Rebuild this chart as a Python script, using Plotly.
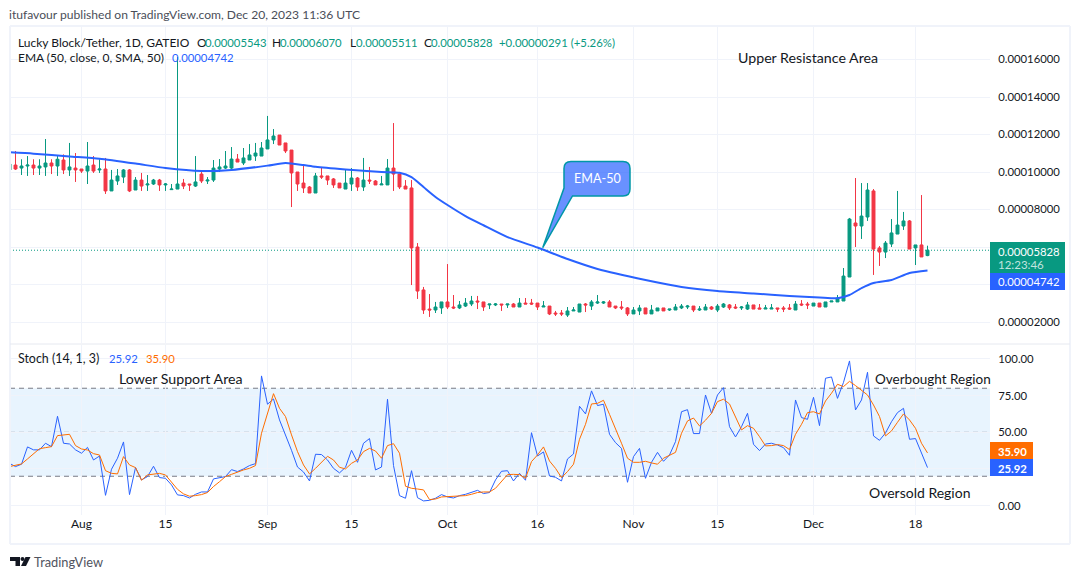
import pandas as pd
import plotly.graph_objects as go

PRICE_UNIT = 1e-5
W, H = 1080, 579
FONT = "Lato"
NUM = 11.3

dates = pd.date_range("2023-07-20", "2023-12-20", freq="D")

open_ = [10.11,10.37,10.21,10.32,10.37,10.21,10.27,10.48,10.32,10.64,
10.11,10.21,10.16,10.05,10.37,10.11,10.16,8.99,9.52,9.73,
10.11,9.04,9.57,9.31,9.36,9.57,9.31,9.06,9.09,9.41,
9.36,9.25,9.89,9.52,9.57,10.16,10.21,10.21,10.69,10.48,
10.64,10.85,10.85,11.23,11.71,11.97,11.55,11.17,10.0,9.41,
9.20,8.88,9.79,9.79,9.63,9.41,9.09,9.36,9.68,9.20,
9.57,9.52,9.31,9.31,10.21,9.89,9.25,9.15,6.00,3.71,
2.69,2.64,2.75,3.07,2.80,2.75,2.85,2.96,3.12,3.07,
2.91,2.91,2.96,2.91,2.96,2.80,3.01,3.01,3.01,2.80,
2.85,2.48,2.48,2.37,2.59,2.53,2.96,2.85,3.01,3.01,
3.07,2.85,2.80,2.75,2.43,2.59,2.75,2.43,2.59,2.75,
2.64,2.64,2.75,2.80,2.85,2.64,2.64,2.80,2.64,2.80,
2.91,2.80,2.75,2.69,2.91,2.75,2.69,2.69,2.75,2.75,
2.75,2.64,2.96,2.96,2.85,3.01,2.80,3.07,3.07,3.12,
4.40,7.28,7.12,7.60,8.99,5.95,5.73,6.16,6.69,7.12,
7.39,5.95,6.11,5.543]

high = [10.50,11.12,10.68,10.85,10.68,10.68,11.76,10.68,10.85,10.94,
11.55,11.01,10.16,11.60,10.85,10.68,10.75,10.11,10.16,10.16,
10.16,9.73,9.95,9.84,9.63,9.63,9.41,9.36,16.13,9.63,
9.36,10.85,10.0,9.73,10.64,10.69,11.12,11.33,10.96,11.28,
11.49,11.55,11.60,12.99,12.29,11.97,11.55,11.17,10.0,10.32,
9.25,9.95,10.27,9.79,9.68,9.41,10.11,10.21,9.73,10.75,
10.27,9.57,9.79,10.69,12.61,9.89,9.57,9.57,6.21,3.87,
3.49,3.07,3.07,5.09,3.44,3.12,3.28,3.39,3.39,3.07,
2.96,3.01,2.96,2.96,3.01,3.28,3.28,3.23,3.01,3.12,
2.85,2.59,2.64,2.80,2.80,2.96,3.01,3.17,3.44,3.12,
3.17,2.85,3.12,2.80,2.80,2.91,2.75,2.91,2.75,2.75,
2.69,2.96,2.96,2.91,2.85,2.85,2.96,2.85,2.96,3.01,
2.96,2.96,2.85,3.07,2.91,2.96,2.91,2.96,2.75,2.85,
2.96,3.12,3.17,3.07,3.01,3.01,3.07,3.12,3.44,4.88,
7.55,9.68,9.41,9.41,9.09,6.05,6.32,7.49,8.99,7.87,
7.44,6.11,8.77,6.07]

low = [10.05,10.11,9.84,9.79,9.84,9.84,9.79,9.89,9.79,9.89,
9.79,9.47,9.95,9.36,9.95,9.95,8.83,8.99,9.31,9.41,
8.93,9.04,8.99,8.99,9.31,8.99,8.99,9.04,9.09,9.09,
8.99,9.20,9.41,9.36,9.47,10.0,10.16,10.16,10.53,10.37,
10.64,10.59,10.85,11.23,11.49,11.44,11.01,8.13,8.99,8.88,
8.88,8.88,9.63,9.31,9.15,9.15,9.09,8.99,8.99,8.99,
9.36,9.31,9.31,9.31,8.99,9.09,9.09,3.97,3.23,2.43,
2.27,2.48,2.43,2.69,2.69,2.69,2.80,2.85,2.69,2.59,
2.69,2.85,2.59,2.75,2.80,2.80,2.96,2.91,2.64,2.80,
2.37,2.32,2.32,2.27,2.59,2.53,2.53,2.64,2.96,2.96,
2.80,2.69,2.64,2.32,2.43,2.37,2.43,2.43,2.59,2.59,
2.59,2.64,2.69,2.69,2.53,2.59,2.64,2.64,2.53,2.75,
2.64,2.69,2.64,2.64,2.69,2.69,2.69,2.69,2.53,2.53,
2.64,2.64,2.85,2.69,2.85,2.80,2.80,3.07,3.07,3.12,
4.40,6.0,6.43,7.39,4.51,4.99,5.41,6.0,6.69,6.91,
5.89,5.04,5.47,5.511]

close = [10.43,10.16,10.32,10.37,10.21,10.32,10.48,10.32,10.68,10.11,
10.27,10.11,10.05,10.32,10.05,10.16,8.99,9.57,9.79,10.11,
8.99,9.57,9.25,9.36,9.57,9.31,9.36,9.09,9.36,9.25,
9.31,9.47,9.52,9.57,10.21,10.27,10.32,10.69,10.53,10.75,
10.91,11.01,11.28,11.71,11.92,11.44,11.12,9.95,9.36,9.15,
8.88,9.79,9.73,9.57,9.31,9.15,9.41,9.68,9.20,9.57,
9.52,9.31,9.36,10.21,9.89,9.20,9.09,5.95,3.65,2.64,
2.64,2.80,3.07,2.80,2.75,2.91,3.01,3.12,3.07,2.80,
2.96,2.96,2.91,2.96,2.80,3.01,2.96,2.96,2.80,2.85,
2.43,2.43,2.43,2.59,2.64,2.96,2.91,3.07,3.07,3.07,
2.80,2.75,2.75,2.43,2.64,2.75,2.43,2.64,2.75,2.59,
2.69,2.80,2.85,2.85,2.64,2.69,2.80,2.69,2.85,2.96,
2.75,2.75,2.80,2.91,2.69,2.69,2.75,2.75,2.69,2.69,
2.69,2.96,2.91,2.91,3.01,2.80,3.07,3.12,3.28,4.45,
7.49,7.12,7.65,9.04,5.89,5.73,6.21,6.75,7.17,7.39,
5.89,6.11,5.47,5.828]

ema_dates = ["2023-07-20","2023-07-24","2023-07-30","2023-08-04","2023-08-10","2023-08-15",
"2023-08-21","2023-08-26","2023-09-01","2023-09-04","2023-09-07","2023-09-09","2023-09-14",
"2023-09-20","2023-09-23","2023-09-25","2023-09-27","2023-09-29","2023-10-01","2023-10-04","2023-10-07",
"2023-10-11","2023-10-16","2023-10-21","2023-10-26","2023-11-03","2023-11-09","2023-11-15",
"2023-11-21","2023-11-27","2023-12-02","2023-12-05","2023-12-07","2023-12-09","2023-12-11",
"2023-12-14","2023-12-17","2023-12-20"]
ema_vals = [11.05,10.98,10.83,10.71,10.45,10.21,10.05,10.11,10.34,10.48,10.37,10.28,10.14,
10.0,9.96,9.73,9.2,8.67,8.24,7.65,7.16,6.53,5.97,5.36,4.83,4.24,3.87,3.65,3.52,3.39,3.31,3.27,
3.44,3.81,4.08,4.24,4.61,4.742]

stoch_k = [28.8,26.6,28.2,40,38,38,42.5,40.2,60.9,42.5,
42,38,35.7,39.7,31.1,33.8,7,24.8,32.3,43.4,
7.5,25.9,17.5,19.8,26.8,19.1,18.6,14.1,7.3,6.8,
5.2,7.7,9.3,9.3,18.2,19.1,19.8,24.5,23.2,25,
27.3,28.6,88.4,69.1,72.7,58.4,48.6,37.7,26.3,22.9,
16.8,35,34.8,31.1,25.4,22.3,26.1,37.7,29.5,42.5,
45.7,24.3,26.3,72.5,27.3,6.8,5,23.8,5.4,3.2,
3.6,5,7.5,5.9,5.2,6.8,7.7,8.9,10.4,8.2,
8.9,17.5,23.4,23.8,16.8,22,17.3,49.7,33.8,36.6,
20.2,19.3,16.8,31.8,35.2,67.7,62.5,78.2,68.2,69.1,
48.6,42.9,39,15.9,33.4,39,18.6,29.5,36.3,30.2,
34.5,43.6,64,65.4,49.1,49.1,75.4,62.9,75.4,80.4,
53.8,46.8,53.8,62.9,41.8,37.5,42,42.5,41.3,39.5,
34.3,72,60,58.8,73.8,54.5,86.8,87.7,73.1,84,
98.6,65.2,72,90.9,47.5,44.5,49.5,57.2,63.4,66.3,
45.2,45.7,36.3,25.92]

stoch_d = [26.6,27.3,28.4,31.8,35,38.8,39.5,40.2,47.7,47.9,
48.6,40.9,38.6,37.9,35.4,34.5,23.8,22,21.6,33.4,
27.7,25.9,17.3,20.9,21.3,22,20.9,16.3,11.1,8,
6.4,6.8,7.5,8.9,13,16.3,19.8,21.3,22.9,24.3,
25.4,27.3,49.3,62.9,76.3,66.3,60.7,48.2,36.8,27.7,
21.6,25.4,29.5,33.6,31.1,26.1,25,28.8,31.1,36.8,
39,37.2,32.3,40.9,42.2,35.7,13.2,11.8,11.3,10.7,
4.1,4.5,5.9,6.1,5.9,6.1,6.8,7.7,8.9,9.3,
9.3,11.8,16.1,21.1,21.3,21.1,18.6,30,34.5,40,
30.4,25.4,19.1,23.2,28.2,45.2,55.4,69.3,69.7,71.8,
62.2,52.7,42.5,32.3,29.5,29.5,30.2,29.1,28.2,32.3,
34.1,36.3,49.3,57.7,59.7,54.3,58.2,62.9,70.9,72.5,
69.3,60.7,51.6,54.5,52.7,47,40.7,40.9,41.6,40.9,
38.2,48.6,55.4,63.4,64,62.5,71.3,76.6,82.7,81.1,
84.7,81.8,78.6,75.4,68.6,60.7,47.5,50.9,56.8,62.5,
58.4,52.7,42.5,35.9]

price_ticks = [2, 4, 6, 8, 10, 12, 14, 16]
price_labels = ["0.00002000", "", "", "0.00008000", "0.00010000", "0.00012000", "0.00014000", "0.00016000"]
stoch_ticks = [0, 25, 50, 75, 100]
stoch_labels = ["0.00", "", "50.00", "75.00", "100.00"]
time_ticks = ["2023-08-01","2023-08-15","2023-09-01","2023-09-15","2023-10-01","2023-10-16",
              "2023-11-01","2023-11-15","2023-12-01","2023-12-18"]
time_labels = ["Aug","15","Sep","15","Oct","16","Nov","15","Dec","18"]

UP, DOWN, BLUE, ORANGE = "#089981", "#F23645", "#2962FF", "#FF6D00"
INK, GRID = "#131722", "#f0f3fa"

def X(px): return px / W
def Y(py): return 1 - py / H
def scaled(values): return [v * PRICE_UNIT for v in values]

fig = go.Figure()
fig.add_trace(go.Candlestick(x=dates, open=scaled(open_), high=scaled(high), low=scaled(low), close=scaled(close),
    increasing=dict(line=dict(color=UP, width=1), fillcolor=UP),
    decreasing=dict(line=dict(color=DOWN, width=1), fillcolor=DOWN),
    whiskerwidth=0, xaxis="x", yaxis="y", hoverinfo="skip"))
fig.add_trace(go.Scatter(x=pd.to_datetime(ema_dates), y=scaled(ema_vals), mode="lines",
    line=dict(color=BLUE, width=2, shape="spline", smoothing=0.6), xaxis="x", yaxis="y", hoverinfo="skip"))
fig.add_trace(go.Scatter(x=dates, y=stoch_k, mode="lines", line=dict(color=BLUE, width=1), xaxis="x2", yaxis="y2", hoverinfo="skip"))
fig.add_trace(go.Scatter(x=dates, y=stoch_d, mode="lines", line=dict(color=ORANGE, width=1), xaxis="x2", yaxis="y2", hoverinfo="skip"))

# axis windows: 6 px per day, first bar centred at px 9.5
LEFT, RIGHT, P_TOP, P_BOT, S_TOP, S_BOT = 10, 990, 27, 343, 345, 515
x0 = pd.Timestamp("2023-07-20") + pd.Timedelta(days=(LEFT - 9.5) / 6)
x1 = pd.Timestamp("2023-07-20") + pd.Timedelta(days=(RIGHT - 9.5) / 6)
x_range = [x0, x1]
price_range = [(2 + (322 - P_BOT) / 18.75) * PRICE_UNIT, (2 + (322 - P_TOP) / 18.75) * PRICE_UNIT]
stoch_range = [(505.6 - S_BOT) / 1.467, (505.6 - S_TOP) / 1.467]

shapes = []
def rect(x0, y0, x1, y1, color, layer="above"):
    shapes.append(dict(type="rect", xref="paper", yref="paper", x0=X(x0), x1=X(x1), y0=Y(y0), y1=Y(y1),
                       fillcolor=color, line=dict(width=0), layer=layer))
def hline(x0, x1, y, color, width=1, dash="solid", layer="above"):
    shapes.append(dict(type="line", xref="paper", yref="paper", x0=X(x0), x1=X(x1), y0=Y(y), y1=Y(y),
                       line=dict(color=color, width=width, dash=dash), layer=layer))
def vline(x, y0, y1, color, width=1):
    shapes.append(dict(type="line", xref="paper", yref="paper", x0=X(x), x1=X(x), y0=Y(y0), y1=Y(y1),
                       line=dict(color=color, width=width)))
def path(points, fill, line=None, lw=0):
    d = ""
    for cmd, *xy in points:
        d += cmd
        for i in range(0, len(xy), 2):
            d += f"{X(xy[i]):.5f},{Y(xy[i+1]):.5f} "
    shapes.append(dict(type="path", xref="paper", yref="paper", path=d + "Z", fillcolor=fill,
                       line=dict(color=line or fill, width=lw)))

# frame
vline(10, 26, 544, GRID, 2); vline(1070, 26, 544, GRID, 2)
hline(10, 1070, 26, GRID, 2); hline(10, 1070, 544, GRID, 2)
hline(10, 1070, 344, "#e6e9f0", 1)

# stochastic band and levels
shapes.append(dict(type="rect", xref="x2 domain", yref="y2", x0=0, x1=1, y0=20, y1=80,
                   fillcolor="rgba(33,150,243,0.1)", line=dict(width=0), layer="below"))
for level, colour in [(80, "#787B86"), (50, "rgba(120,123,134,0.6)"), (20, "#787B86")]:
    shapes.append(dict(type="line", xref="x2 domain", yref="y2", x0=0, x1=1, y0=level, y1=level,
                       line=dict(color=colour, width=1, dash="5px,4px"), layer="below"))
# last price dotted line
shapes.append(dict(type="line", xref="x domain", yref="y", x0=0, x1=1, y0=close[-1] * PRICE_UNIT, y1=close[-1] * PRICE_UNIT,
                   line=dict(color=UP, width=1, dash="1px,2px"), layer="below"))

# axis value badges
rect(990, 242, 1065, 273, UP); rect(990, 273, 1065, 290, BLUE)
rect(990, 442, 1033, 459, ORANGE); rect(990, 459, 1033, 476, BLUE)

# EMA-50 callout
l, r, t, b, c = 564, 630, 161.5, 196, 7
path([("M", l + c, t), ("L", r - c, t), ("Q", r, t, r, t + c), ("L", r, b - c), ("Q", r, b, r - c, b),
      ("L", 572.5, b), ("L", 542.7, 247.7), ("L", l, 188), ("L", l, t + c), ("Q", l, t, l + c, t)],
     "rgba(41,98,255,0.7)", "#0097A7", 1.5)

# TradingView mark
path([("M", 10, 557), ("L", 20, 557), ("L", 20, 566), ("L", 15.5, 566), ("L", 15.5, 561), ("L", 10, 561)], INK)
shapes.append(dict(type="circle", xref="paper", yref="paper", x0=X(20.5), x1=X(24.5), y0=Y(561), y1=Y(557), fillcolor=INK, line=dict(width=0)))
path([("M", 25.5, 557), ("L", 30.5, 557), ("L", 26, 566), ("L", 21, 566)], INK)

anns = []
def txt(x, y, s, color=INK, size=12, anchor="left", bold=False):
    anns.append(dict(xref="paper", yref="paper", x=X(x), y=Y(y), text=f"<b>{s}</b>" if bold else s, showarrow=False,
                     xanchor=anchor, yanchor="middle", borderpad=0, borderwidth=0,
                     font=dict(family=FONT, color=color, size=size)))

txt(9, 15, "itufavour published on TradingView.com, Dec 20, 2023 11:36 UTC", "#4a4e59", 12.1)
txt(18, 42, "Lucky Block/Tether, 1D, GATEIO")
for lx, letter, vx, val in [(197, "O", 205, open_[-1]), (271.5, "H", 280, high[-1]), (349.5, "L", 356, low[-1]), (423.5, "C", 431, close[-1])]:
    txt(lx, 42, letter); txt(vx, 42, f"{val * PRICE_UNIT:.8f}", UP, NUM)
txt(499, 42, "+0.00000291 (+5.26%)", UP, 11.4)
txt(18, 58, "EMA (50, close, 0, SMA, 50)")
txt(172, 58, f"{ema_vals[-1] * PRICE_UNIT:.8f}", BLUE, NUM)
txt(18, 358.5, "Stoch (14, 1, 3)", size=12.4)
txt(109, 358.5, f"{stoch_k[-1]:.2f}", BLUE, NUM); txt(145.5, 358.5, f"{stoch_d[-1]:.2f}", ORANGE, NUM)

txt(807.5, 57, "Upper Resistance Area", size=14.2, anchor="center")
txt(181, 378, "Lower Support Area", size=14.2, anchor="center")
txt(932.5, 379, "Overbought Region", size=13.5, anchor="center")
txt(919, 492, "Oversold Region", size=14, anchor="center")
txt(597, 178, "EMA-50", "#ffffff", 12.6, "center")

txt(998, 251, f"{close[-1] * PRICE_UNIT:.8f}", "#ffffff", NUM)
txt(998, 264, "12:23:46", "rgba(255,255,255,0.75)", 11.5)
txt(998, 281.5, f"{ema_vals[-1] * PRICE_UNIT:.8f}", "#ffffff", NUM)
txt(998, 451, f"{stoch_d[-1]:.2f}", "#ffffff", NUM, bold=True)
txt(998, 468, f"{stoch_k[-1]:.2f}", "#ffffff", NUM, bold=True)
txt(34, 561.5, "TradingView", "#50535e", 12.8)

common_x = dict(domain=[X(LEFT), X(RIGHT)], range=x_range, type="date", tickvals=pd.to_datetime(time_ticks),
                showgrid=True, gridcolor=GRID, gridwidth=1, zeroline=False, showline=False, ticks="")
fig.update_layout(
    width=W, height=H, margin=dict(l=0, r=0, t=0, b=0), autosize=False,
    paper_bgcolor="#ffffff", plot_bgcolor="#ffffff", showlegend=False, hovermode=False,
    font=dict(family=FONT, color=INK, size=12),
    xaxis=dict(common_x, anchor="y", showticklabels=False, rangeslider=dict(visible=False)),
    xaxis2=dict(common_x, anchor="y2", ticktext=time_labels, tickfont=dict(family=FONT, size=12, color=INK)),
    yaxis=dict(domain=[Y(P_BOT), Y(P_TOP)], range=price_range, anchor="x", side="right",
               tickvals=scaled(price_ticks), ticktext=price_labels, showgrid=True, gridcolor=GRID, zeroline=False,
               ticks="outside", ticklen=5, tickcolor="rgba(0,0,0,0)", tickfont=dict(family=FONT, size=NUM, color=INK)),
    yaxis2=dict(domain=[Y(S_BOT), Y(S_TOP)], range=stoch_range, anchor="x2", side="right",
                tickvals=stoch_ticks, ticktext=stoch_labels, showgrid=True, gridcolor=GRID, zeroline=False,
                ticks="outside", ticklen=5, tickcolor="rgba(0,0,0,0)", tickfont=dict(family=FONT, size=NUM, color=INK)),
    shapes=shapes, annotations=anns,
)
fig.write_html("out.html", config=dict(displayModeBar=False), post_script="document.body.style.margin='0';")
